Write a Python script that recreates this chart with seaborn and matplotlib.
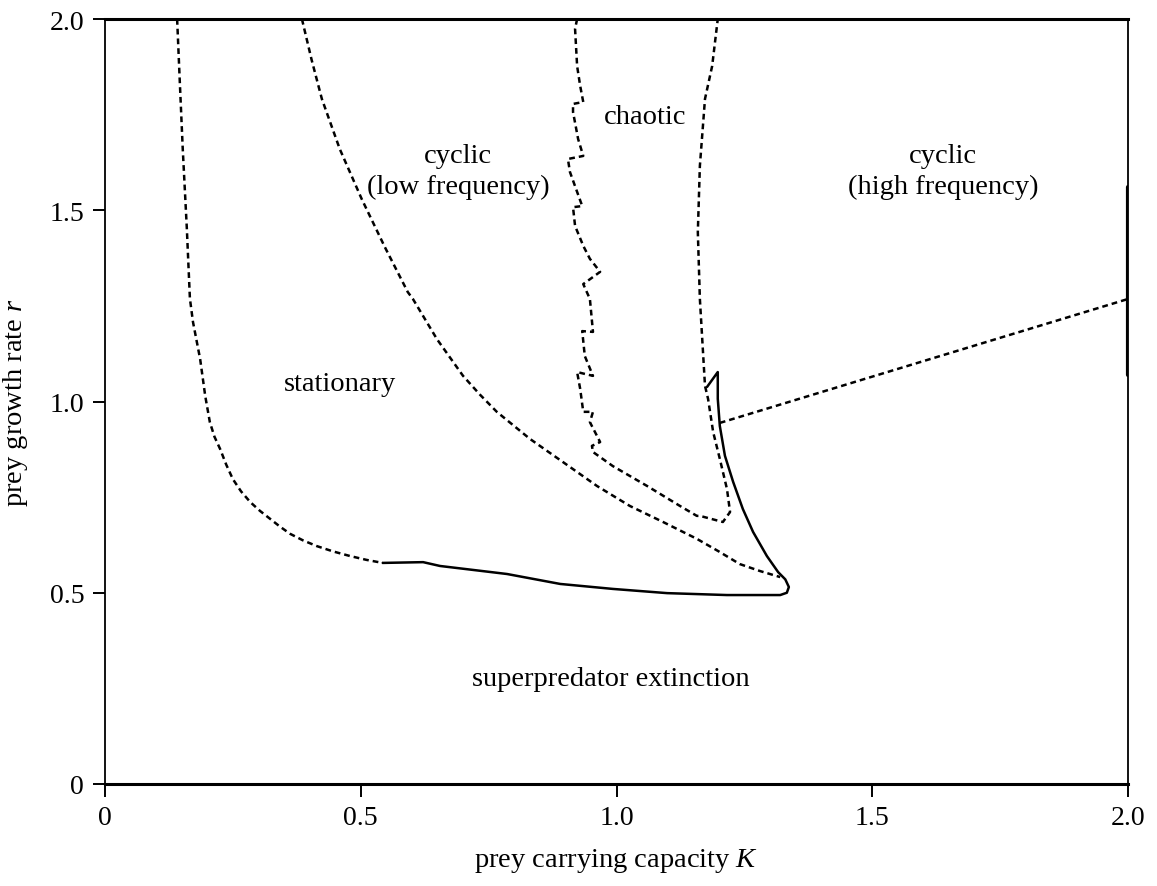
import matplotlib
matplotlib.use("Agg")
import matplotlib.pyplot as plt
import seaborn as sns
import pandas as pd

# ---- data (K = prey carrying capacity, r = prey growth rate) ----
stat_K = [0.141, 0.146, 0.152, 0.160, 0.166, 0.172, 0.186, 0.196, 0.205, 0.214, 0.225, 0.237, 0.250, 0.266,
          0.284, 0.303, 0.323, 0.342, 0.362, 0.387, 0.414, 0.446, 0.479, 0.511, 0.543]
stat_r = [2.000, 1.843, 1.660, 1.452, 1.269, 1.208, 1.111, 1.014, 0.946, 0.908, 0.876, 0.835, 0.797, 0.765,
          0.737, 0.714, 0.693, 0.673, 0.654, 0.637, 0.622, 0.608, 0.596, 0.586, 0.578]

low_K = [0.385, 0.404, 0.424, 0.459, 0.502, 0.547, 0.592, 0.602, 0.649, 0.700, 0.733, 0.766, 0.831, 0.895,
         0.962, 1.026, 1.091, 1.157, 1.200, 1.241, 1.280, 1.320]
low_r = [2.000, 1.893, 1.791, 1.660, 1.529, 1.404, 1.286, 1.268, 1.163, 1.067, 1.018, 0.973, 0.902, 0.842,
         0.779, 0.727, 0.685, 0.641, 0.608, 0.575, 0.557, 0.541]

chaos_K = [0.923, 0.919, 0.923, 0.929, 0.935, 0.915, 0.915, 0.925, 0.935, 0.905, 0.909, 0.923, 0.933, 0.915,
           0.919, 0.935, 0.948, 0.968, 0.935, 0.948, 0.954, 0.933, 0.938, 0.954, 0.923, 0.929, 0.935, 0.954,
           0.948, 0.968, 0.952, 0.954, 0.993, 1.060, 1.124, 1.157, 1.163, 1.208, 1.222, 1.216, 1.202, 1.189,
           1.179, 1.173, 1.163, 1.159, 1.163, 1.173, 1.187, 1.198]
chaos_r = [2.000, 1.974, 1.877, 1.825, 1.783, 1.778, 1.757, 1.686, 1.642, 1.634, 1.600, 1.548, 1.511, 1.508,
           1.459, 1.407, 1.373, 1.339, 1.307, 1.268, 1.182, 1.184, 1.119, 1.067, 1.077, 1.033, 0.973, 0.973,
           0.946, 0.894, 0.884, 0.868, 0.831, 0.779, 0.727, 0.701, 0.701, 0.685, 0.711, 0.771, 0.850, 0.920,
           1.007, 1.041, 1.268, 1.443, 1.616, 1.791, 1.877, 2.000]

high_K = [1.202, 2.000]
high_r = [0.944, 1.268]

ext_K = [0.543, 0.622, 0.655, 0.786, 0.890, 0.993, 1.099, 1.216, 1.320, 1.333, 1.337, 1.330, 1.316, 1.294,
         1.267, 1.247, 1.228, 1.212, 1.202, 1.198, 1.198, 1.177]
ext_r = [0.578, 0.580, 0.570, 0.549, 0.523, 0.510, 0.499, 0.494, 0.494, 0.500, 0.515, 0.535, 0.554, 0.596,
         0.659, 0.719, 0.790, 0.858, 0.936, 1.007, 1.077, 1.038]

edge_K = [2.000, 2.000]
edge_r = [1.07, 1.56]

ticks = [0, 0.5, 1.0, 1.5, 2.0]
tick_labels = ["0", "0.5", "1.0", "1.5", "2.0"]

region_labels = ["cyclic\n(low frequency)", "chaotic", "cyclic\n(high frequency)", "stationary",
                 "superpredator extinction"]
region_K = [0.690, 1.056, 1.638, 0.459, 0.989]
region_r = [1.603, 1.744, 1.603, 1.046, 0.275]

# ---- style ----
sns.set_style("ticks")
plt.rcParams["font.family"] = ["Liberation Serif", "DejaVu Serif"]
plt.rcParams["mathtext.fontset"] = "custom"
plt.rcParams["mathtext.it"] = "Liberation Serif:italic"
plt.rcParams["mathtext.rm"] = "Liberation Serif"
plt.rcParams["text.color"] = "black"
plt.rcParams["axes.labelcolor"] = "black"
plt.rcParams["xtick.color"] = "black"
plt.rcParams["ytick.color"] = "black"

fig = plt.figure(figsize=(11.57, 8.87), dpi=100)
ax = fig.add_axes([105 / 1157, 102 / 887, 1023 / 1157, 765 / 887])

dash = (0, (2.3, 1.6))
lw = 1.8

def draw(K, r, ls, width=lw):
    df = pd.DataFrame({"K": K, "r": r})
    sns.lineplot(data=df, x="K", y="r", sort=False, estimator=None, ax=ax,
                 color="black", linewidth=width, linestyle=ls)

draw(stat_K, stat_r, dash)
draw(low_K, low_r, dash)
draw(chaos_K, chaos_r, dash)
draw(high_K, high_r, dash)
draw(ext_K, ext_r, "-")
draw(edge_K, edge_r, "-", width=3.0)

for lab, k, r in zip(region_labels, region_K, region_r):
    ax.text(k, r, lab, ha="center", va="center", fontsize=20.5, linespacing=1.3, color="black")

ax.set_xlim(0, 2)
ax.set_ylim(0, 2)
ax.set_xticks(ticks)
ax.set_xticklabels(tick_labels)
ax.set_yticks(ticks)
ax.set_yticklabels(tick_labels)
ax.tick_params(direction="out", length=9, width=1.4, labelsize=20, pad=6, color="black", labelcolor="black")

ax.set_xlabel(r"prey carrying capacity $K$", fontsize=20.5, labelpad=12, color="black")
ax.set_ylabel(r"prey growth rate $r$", fontsize=20.5, labelpad=14, color="black")

for side, w in [("top", 2.2), ("bottom", 2.2), ("left", 1.3), ("right", 1.3)]:
    ax.spines[side].set_visible(True)
    ax.spines[side].set_linewidth(w)
    ax.spines[side].set_color("black")

fig.savefig("out.png", dpi=100, facecolor="white")
